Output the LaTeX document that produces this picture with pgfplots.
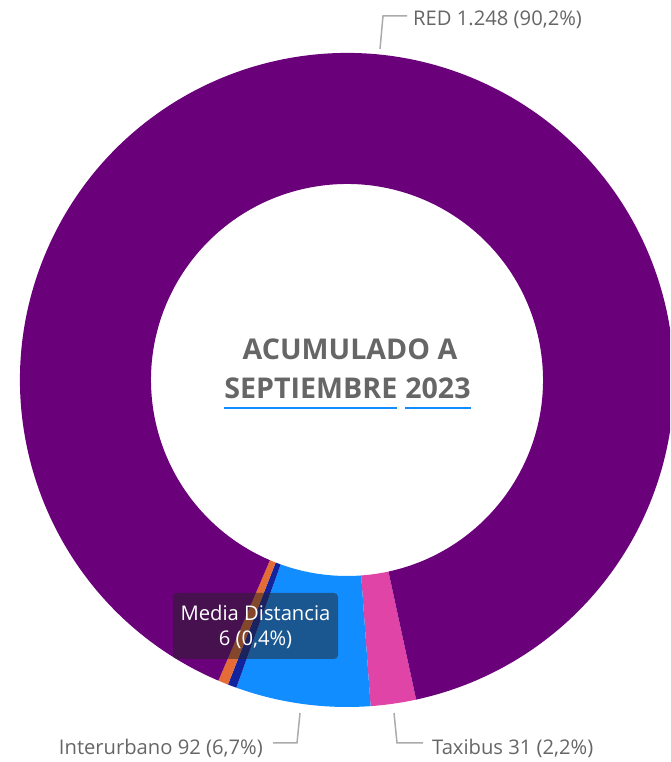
\documentclass[border=0pt]{standalone}
\usepackage{pgfplots}
\pgfplotsset{compat=1.18}
\usepackage{pgfplotstable}
\usepackage{fontspec}
\setmainfont{Open Sans}

\definecolor{cRED}{HTML}{6B007B}
\definecolor{cTaxibus}{HTML}{E044A7}
\definecolor{cInterurbano}{HTML}{118DFF}
\definecolor{cMedia}{HTML}{12239E}
\definecolor{cOtros}{HTML}{E66C37}
\definecolor{lbl}{HTML}{666666}
\definecolor{leader}{HTML}{ABABAB}
\definecolor{ublue}{HTML}{118DFF}
\definecolor{ttgray}{HTML}{232323}

% slices, clockwise from the RED/Taxibus edge
\pgfplotstableread{
serie value
Taxibus 31
Interurbano 92
Media 6
Otros 7
RED 1248
}\slices

\newcommand\lblfont{\fontsize{20.2pt}{24pt}\selectfont}
\newcommand\ctrfont{\fontsize{28.6pt}{34pt}\selectfont\bfseries}
\newcommand\ul[1]{\setbox0\hbox{#1}\rlap{\color{ublue}\rule[-10pt]{\wd0}{2pt}}\box0}

\begin{document}
\begin{tikzpicture}
  % total and angles
  \def\total{0}
  \pgfplotsforeachungrouped \i in {0,...,4}{%
    \pgfplotstablegetelem{\i}{value}\of\slices
    \pgfmathsetmacro\total{\total+\pgfplotsretval}}
  \def\acc{-77.8}
  \pgfplotsforeachungrouped \i in {0,...,4}{%
    \pgfplotstablegetelem{\i}{value}\of\slices
    \pgfmathsetmacro\nxt{\acc-\pgfplotsretval/\total*360}
    \expandafter\edef\csname as\i\endcsname{\acc}
    \expandafter\edef\csname ae\i\endcsname{\nxt}
    \pgfplotstablegetelem{\i}{serie}\of\slices
    \colorlet{slice\i}{c\pgfplotsretval}
    \let\acc\nxt}

  \begin{axis}[x=1pt, y=1pt, xmin=-347, xmax=323, ymin=-382, ymax=380,
      hide axis, clip=true]
    \pgfplotsinvokeforeach{0,...,4}{
      \fill[slice#1] ([shift={(\csname as#1\endcsname:327pt)}]axis cs:0,0)
        arc[start angle=\csname as#1\endcsname, end angle=\csname ae#1\endcsname, radius=327pt]
        -- ([shift={(\csname ae#1\endcsname:196pt)}]axis cs:0,0)
        arc[start angle=\csname ae#1\endcsname, end angle=\csname as#1\endcsname, radius=196pt]
        -- cycle;
    }

    % centre text
    \node[anchor=base, inner sep=0, text=lbl, font=\ctrfont]
      at (axis cs:3,20) {ACUMULADO A};
    \node[anchor=base, inner sep=0, text=lbl, font=\ctrfont]
      at (axis cs:0.5,-19) {\ul{SEPTIEMBRE}\hspace{8pt}\ul{2023}};

    % data labels
    \draw[leader, line width=1.5pt] (axis cs:33,331) -- (axis cs:36,364) -- (axis cs:60,364);
    \node[anchor=base west, inner sep=0, text=lbl, font=\lblfont] at (axis cs:66,354) {RED 1.248 (90,2\%)};
    \draw[leader, line width=1.5pt] (axis cs:-47,-333) -- (axis cs:-50,-363) -- (axis cs:-74,-363);
    \node[anchor=base east, inner sep=0, text=lbl, font=\lblfont] at (axis cs:-84,-375) {Interurbano 92 (6,7\%)};
    \draw[leader, line width=1.5pt] (axis cs:47,-333) -- (axis cs:50,-363) -- (axis cs:76,-363);
    \node[anchor=base west, inner sep=0, text=lbl, font=\lblfont] at (axis cs:85,-375) {Taxibus 31 (2,2\%)};

    % tooltip
    \fill[ttgray, opacity=0.5, rounded corners=4pt] (axis cs:-174,-213) rectangle (axis cs:-9,-279);
    \node[anchor=base, inner sep=0, text=white, font=\lblfont] at (axis cs:-91.5,-241) {Media Distancia};
    \node[anchor=base, inner sep=0, text=white, font=\lblfont] at (axis cs:-91.5,-266) {6 (0,4\%)};
  \end{axis}
  \pgfresetboundingbox
  \useasboundingbox (current axis.south west) rectangle (current axis.north east);
\end{tikzpicture}
\end{document}
